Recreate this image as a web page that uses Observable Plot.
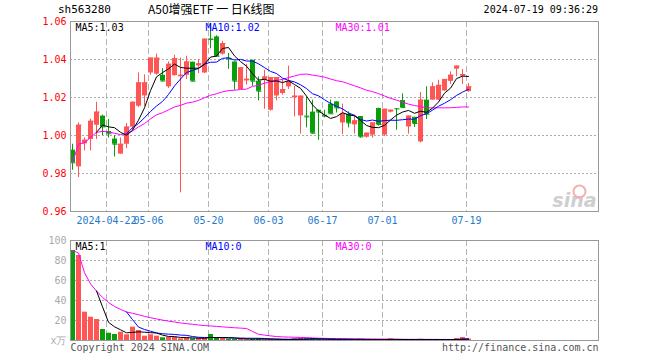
<!DOCTYPE html>
<html><head><meta charset="utf-8">
<script src="https://cdn.jsdelivr.net/npm/d3@7"></script>
<script src="https://cdn.jsdelivr.net/npm/@observablehq/plot@0.6"></script>
<style>
body{margin:0;background:#fff;}
#wrap{position:relative;width:660px;height:360px;overflow:hidden;background:#fff;font-family:"DejaVu Sans Mono",monospace;}
.t{position:absolute;white-space:nowrap;line-height:1;}
#p1,#p2{position:absolute;left:0;}
#p1{top:0}
#p2{top:228px}
</style></head><body>
<div id="wrap">
<div id="p1"></div><div id="p2"></div>
<div class="t" style="left:58px;top:4px;font-size:11px;color:#000">sh563280</div>
<div class="t" style="left:148px;top:3px;font-family:'Noto Sans CJK SC';font-size:12px;color:#000">A50增强ETF&nbsp;一&nbsp;日K线图</div>
<div class="t" style="right:62px;top:5px;font-size:10px;color:#000">2024-07-19 09:36:29</div>
</div>
<script>
const dates = ["2024-04-12","2024-04-15","2024-04-16","2024-04-17","2024-04-18","2024-04-19",
"2024-04-22","2024-04-23","2024-04-24","2024-04-25","2024-04-26","2024-04-29","2024-04-30",
"2024-05-06","2024-05-07","2024-05-08","2024-05-09","2024-05-10",
"2024-05-13","2024-05-14","2024-05-15","2024-05-16","2024-05-17",
"2024-05-20","2024-05-21","2024-05-22","2024-05-23","2024-05-24",
"2024-05-27","2024-05-28","2024-05-29","2024-05-30","2024-05-31",
"2024-06-03","2024-06-04","2024-06-05","2024-06-06","2024-06-07",
"2024-06-11","2024-06-12","2024-06-13","2024-06-14",
"2024-06-17","2024-06-18","2024-06-19","2024-06-20","2024-06-21",
"2024-06-24","2024-06-25","2024-06-26","2024-06-27","2024-06-28",
"2024-07-01","2024-07-02","2024-07-03","2024-07-04","2024-07-05",
"2024-07-08","2024-07-09","2024-07-10","2024-07-11","2024-07-12",
"2024-07-15","2024-07-16","2024-07-17","2024-07-18","2024-07-19"];
const open = [0.9923,0.9835,0.9956,0.9979,1.0054,1.0102,1.0021,0.9981,0.9902,0.9954,1.0044,1.0154,1.0208,
1.0329,1.0323,1.0317,1.0256,1.0315,1.0309,1.0317,1.0386,1.0366,1.0329,
1.0508,1.0519,1.0428,1.0407,1.0387,1.0242,1.0287,1.0396,1.0286,1.0291,
1.0133,1.0208,1.0221,1.0256,1.0198,1.0103,1.0102,1.0123,1.0133,
1.0107,1.0165,1.0177,1.0066,1.0112,1.0056,1.0100,0.9991,1.0002,1.0142,
1.0002,1.0123,1.0142,1.0184,1.0045,1.0096,0.9966,1.0186,1.0186,1.0186,
1.0234,1.0285,1.0349,1.0312,1.0231];
const close = [0.9856,1.0054,0.9975,1.0075,1.0123,1.0045,1.0009,0.9954,0.9954,1.0044,1.0175,1.0277,1.0277,
1.0407,1.0407,1.0287,1.0375,1.0405,1.0317,1.0387,1.0286,1.0377,1.0507,
1.0505,1.0417,1.0484,1.0403,1.0286,1.0356,1.0296,1.0286,1.0233,1.0308,
1.0305,1.0305,1.0242,1.0282,1.0207,1.0207,1.0098,1.0012,1.0123,
1.0102,1.0114,1.0145,1.0116,1.0066,1.0077,0.9993,1.0012,1.0066,1.0058,
1.0138,1.0133,1.0140,1.0147,1.0102,1.0063,1.0186,1.0112,1.0256,1.0264,
1.0295,1.0317,1.0365,1.0321,1.0256];
const high = [0.9954,1.0066,0.9987,1.0086,1.0175,1.0107,1.0084,1.0000,0.9987,1.0063,1.0175,1.0329,1.0319,
1.0407,1.0428,1.0353,1.0387,1.0423,1.0407,1.0417,1.0386,1.0400,1.0507,
1.0590,1.0525,1.0496,1.0432,1.0387,1.0356,1.0375,1.0396,1.0308,1.0344,
1.0305,1.0305,1.0295,1.0365,1.0259,1.0207,1.0203,1.0186,1.0133,
1.0133,1.0186,1.0177,1.0165,1.0124,1.0107,1.0100,1.0012,1.0066,1.0144,
1.0138,1.0133,1.0142,1.0219,1.0102,1.0096,1.0226,1.0256,1.0277,1.0291,
1.0295,1.0335,1.0365,1.0347,1.0274];
const low = [0.9817,0.9779,0.9919,0.9919,0.9979,1.0000,0.9987,0.9887,0.9902,0.9932,1.0028,1.0147,1.0154,
1.0317,1.0317,1.0282,1.0247,1.0312,0.9698,1.0295,1.0282,1.0326,1.0326,
1.0456,1.0412,1.0423,1.0348,1.0238,1.0242,1.0265,1.0259,1.0182,1.0138,
1.0128,1.0182,1.0212,1.0242,1.0098,1.0007,1.0040,1.0007,0.9975,
1.0093,1.0114,1.0119,1.0005,1.0040,1.0007,0.9986,0.9986,0.9986,1.0050,
0.9995,1.0119,1.0028,1.0144,1.0007,1.0042,0.9961,1.0084,1.0186,1.0184,
1.0234,1.0269,1.0309,1.0268,1.0227];
const volume = [90,85,28.3,23.3,21,11,7.3,6,8.3,5.7,13.3,10,4.3,
5.7,4.3,2.7,3.3,3.3,1.7,3,1.7,2.3,2.3,
6,2.3,2.3,1.3,1.3,2,1.3,1.3,1.7,1,
1.3,1,0.7,1,1.7,2,1.7,2,1.3,
0.7,1,0.7,1.3,1,0.7,1.3,0.7,1,1,
1,1.7,0.7,0.7,0.7,0.7,1.3,1,0.7,0.7,
0.7,0.7,2,3,1.5];
const tickDates = ["2024-04-22","2024-05-06","2024-05-20","2024-06-03","2024-06-17","2024-07-01","2024-07-19"];
const tickLabels = ["2024-04-22","05-06","05-20","06-03","06-17","07-01","07-19"];
const priceTicks = [0.96,0.98,1.00,1.02,1.04,1.06];
const priceGrid = [0.98,1.00,1.02,1.04];
const volTicks = [0,20,40,60,80,100];
const volGrid = [20,40,60,80];
const priceLabels = ["MA5:1.03","MA10:1.02","MA30:1.01"];
const volLabels = ["MA5:1","MA10:0","MA30:0"];

const MONO = "'DejaVu Sans Mono', monospace";
const RED = "#ff5555", GREEN = "#0a9e0a", XBLUE = "#1f7acc";
const MA_COLORS = ["#000000", "#0000ff", "#ff00ff"];
const rows = dates.map((d, i) => ({i, date: d, open: open[i], close: close[i], high: high[i], low: low[i], vol: volume[i]}));
const col = d => d.close >= d.open ? RED : GREEN;
const mid = d => d.i + 1/3;
const tickIdx = tickDates.map(d => dates.indexOf(d));
const labelOf = v => tickLabels[tickIdx.indexOf(v)];
const nSlots = 88;

function maLines(field) {
  return [
    Plot.lineY(rows, Plot.windowY({k: 30, anchor: "end", strict: false}, {x: mid, y: field, stroke: MA_COLORS[2], strokeWidth: 1})),
    Plot.lineY(rows, Plot.windowY({k: 10, anchor: "end", strict: true}, {x: mid, y: field, stroke: MA_COLORS[1], strokeWidth: 1})),
    Plot.lineY(rows, Plot.windowY({k: 5, anchor: "end", strict: true}, {x: mid, y: field, stroke: MA_COLORS[0], strokeWidth: 1}))
  ];
}
function maText(labels) {
  const offs = [5, 135, 265];
  return labels.map((t, j) => Plot.text([t], {text: d => d, frameAnchor: "top-left", textAnchor: "start", lineAnchor: "middle", dx: offs[j], dy: 6, fill: MA_COLORS[j], fontSize: 10}));
}

const p1 = Plot.plot({
  width: 660, height: 235, marginLeft: 70, marginRight: 62, marginTop: 21, marginBottom: 24,
  style: {fontFamily: MONO, fontSize: "10px", background: "transparent"},
  x: {type: "linear", domain: [0, nSlots]},
  y: {domain: [0.96, 1.06]},
  marks: [
    Plot.ruleY(priceGrid, {stroke: "#aaa", strokeDasharray: "2,2"}),
    Plot.ruleX(tickIdx, {stroke: "#b4b4b4", strokeDasharray: "6,3"}),
    Plot.text(["sina"], {text: d => d, frameAnchor: "bottom-right", textAnchor: "end", lineAnchor: "bottom", dx: -2, dy: -5, fontSize: 19, fontWeight: "bold", fontStyle: "italic", fontFamily: "'DejaVu Sans'", fill: "#cfcfcf"}),
    Plot.dot([0], {frameAnchor: "bottom-right", dx: -19, dy: -20, r: 6, stroke: "#f2b0b0", strokeWidth: 2, fill: "none"}),
    Plot.ruleX(rows, {x: mid, y1: "low", y2: "high", stroke: col}),
    Plot.rect(rows, {x1: "i", x2: d => d.i + 5/6, y1: d => Math.min(d.open, d.close), y2: d => Math.max(d.open, d.close), fill: col}),
    Plot.link(rows, {x1: "i", x2: d => d.i + 5/6, y1: "close", y2: "close", stroke: col}),
    ...maLines("close"),
    Plot.frame({stroke: "#999"}),
    Plot.axisY(priceTicks, {tickSize: 0, tickPadding: 4, tickFormat: d3.format(".2f"), color: "#ff0000", label: null, fontSize: 10}),
    Plot.axisX(tickIdx, {tickSize: 0, tickPadding: 5, tickFormat: labelOf, color: XBLUE, label: null, fontSize: 10}),
    ...maText(priceLabels)
  ]
});
document.getElementById("p1").appendChild(p1);

const p2 = Plot.plot({
  width: 660, height: 132, marginLeft: 70, marginRight: 62, marginTop: 12, marginBottom: 20,
  style: {fontFamily: MONO, fontSize: "10px", background: "transparent"},
  x: {type: "linear", domain: [0, nSlots], axis: null},
  y: {domain: [0, 100]},
  marks: [
    Plot.ruleY(volGrid, {stroke: "#aaa", strokeDasharray: "2,2"}),
    Plot.ruleX(tickIdx, {stroke: "#b4b4b4", strokeDasharray: "6,3"}),
    Plot.rect(rows, {x1: "i", x2: d => d.i + 5/6, y1: 0, y2: "vol", fill: col}),
    ...maLines("vol"),
    Plot.frame({stroke: "#999"}),
    Plot.axisY(volTicks, {tickSize: 0, tickPadding: 4, tickFormat: d => d === 0 ? "x万" : String(d), color: "#aaaaaa", label: null, fontSize: 10}),
    ...maText(volLabels),
    Plot.text(["Copyright 2024 SINA.COM"], {text: d => d, frameAnchor: "bottom-left", textAnchor: "start", lineAnchor: "middle", dy: 7, fill: "#555", fontSize: 10}),
    Plot.text(["http://finance.sina.com.cn"], {text: d => d, frameAnchor: "bottom-right", textAnchor: "end", lineAnchor: "middle", dy: 7, fill: "#555", fontSize: 10})
  ]
});
document.getElementById("p2").appendChild(p2);
</script>
</body></html>
